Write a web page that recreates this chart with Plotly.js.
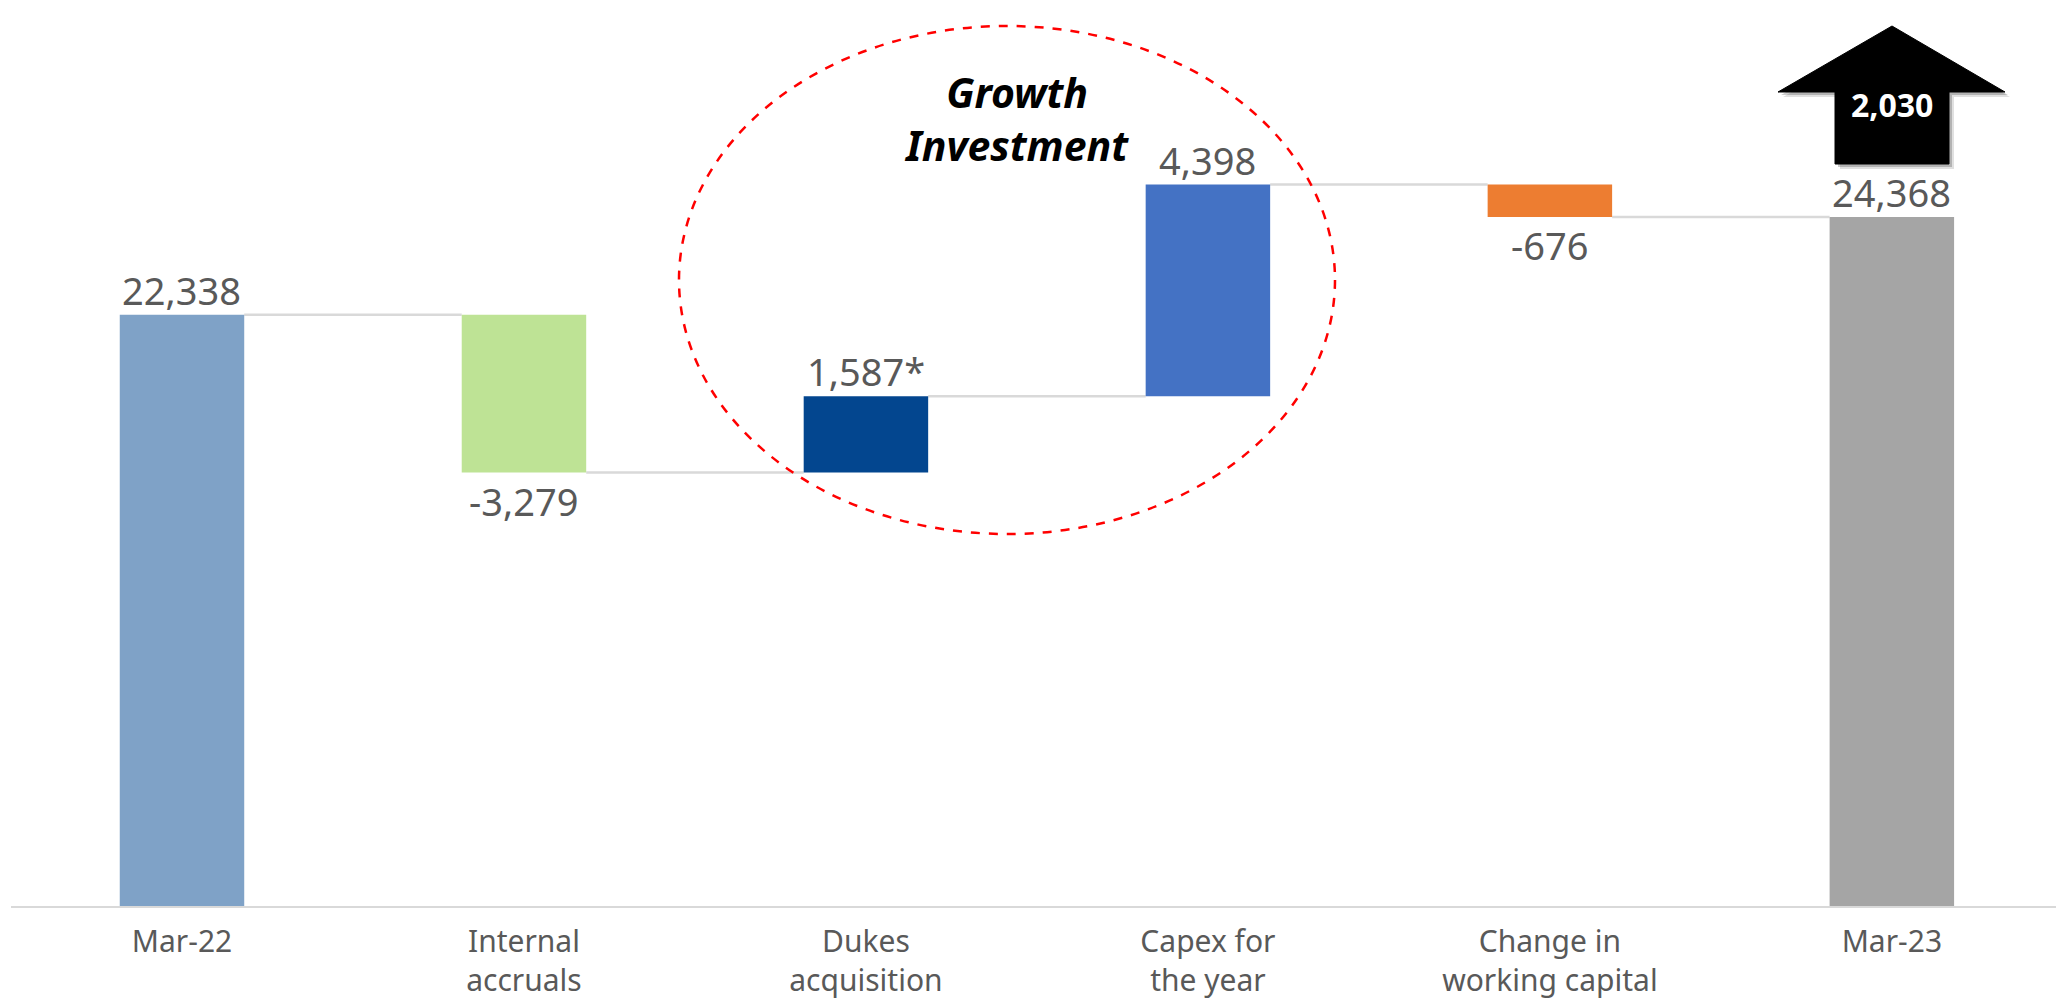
<!DOCTYPE html>
<html>
<head>
<meta charset="utf-8">
<script src="https://cdn.plot.ly/plotly-3.0.1.min.js"></script>
<style>html,body{margin:0;padding:0;background:#fff;}#chart{width:2056px;height:1001px;}</style>
</head>
<body>
<div id="chart"></div>
<script>
// ---- data ----
const tickLabels = ['Mar-22', 'Internal<br>accruals', 'Dukes<br>acquisition', 'Capex for<br>the year', 'Change in<br>working capital', 'Mar-23'];
const measures = ['absolute', 'relative', 'relative', 'relative', 'relative', 'total'];
const values = [22338, -3279, 1587, 4398, -676, 24368];
const labelNotes = ['', '', '*', '', '', ''];
const barColors = ['#7FA2C7', '#BEE395', '#03468F', '#4472C4', '#ED7D31', '#A5A5A5'];
const arrowValue = 2030;
const calloutLines = ['Growth', 'Investment'];

// ---- layout geometry ----
const W = 2056, H = 1001;
const M = {l: 11, r: 0, t: 0, b: 95};
const PW = W - M.l - M.r, PH = H - M.t - M.b;
const barWidth = 0.364;
const fmt = v => v.toLocaleString('en-US');
const px = x => (x - M.l) / PW;          // pixel -> paper x
const py = y => (M.t + PH - y) / PH;     // pixel -> paper y

// ---- waterfall geometry from data ----
const xs = values.map((_, i) => i);
const bases = [], heights = [], levels = [];
let running = 0;
values.forEach((v, i) => {
  if (measures[i] === 'absolute') { bases.push(0); heights.push(v); running = v; }
  else if (measures[i] === 'total') { bases.push(0); heights.push(running); }
  else { bases.push(running); heights.push(v); running += v; }
  levels.push(running);
});

const annotations = [];
values.forEach((v, i) => {
  const neg = measures[i] === 'relative' && v < 0;
  const end = bases[i] + heights[i];
  annotations.push({
    x: i, y: end, xref: 'x', yref: 'y',
    text: fmt(v) + labelNotes[i], showarrow: false,
    yanchor: neg ? 'top' : 'bottom', xanchor: 'center',
    yshift: neg ? 0 : -3,
    font: {family: 'Noto Sans', size: 38, color: '#595959'}
  });
});

const shapes = [];
for (let i = 0; i < values.length - 1; i++) {
  shapes.push({
    type: 'line', xref: 'x', yref: 'y', layer: 'below',
    x0: i + barWidth / 2, x1: i + 1 - barWidth / 2, y0: levels[i], y1: levels[i],
    line: {color: '#D9D9D9', width: 2.5}
  });
}

// dashed ellipse highlight
shapes.push({
  type: 'circle', xref: 'paper', yref: 'paper',
  x0: px(679), x1: px(1335), y0: py(534), y1: py(26),
  line: {color: '#FF0000', width: 2.5, dash: 'dash'}
});

// block arrow (with soft shadow)
function arrowPath(dx, dy) {
  const pts = [[1892, 26], [2005, 92], [1949, 92], [1949, 164], [1835, 164], [1835, 92], [1778, 92]];
  return 'M' + pts.map(p => px(p[0] + dx) + ',' + py(p[1] + dy)).join(' L') + ' Z';
}
shapes.push({type: 'path', xref: 'paper', yref: 'paper', path: arrowPath(5, 5),
  fillcolor: 'rgba(0,0,0,0.12)', line: {width: 0}});
shapes.push({type: 'path', xref: 'paper', yref: 'paper', path: arrowPath(3, 3),
  fillcolor: 'rgba(0,0,0,0.2)', line: {width: 0}});
shapes.push({type: 'path', xref: 'paper', yref: 'paper', path: arrowPath(0, 0),
  fillcolor: '#000000', line: {color: '#000000', width: 1}});

annotations.push({
  xref: 'paper', yref: 'paper', x: px(1892), y: py(104), showarrow: false,
  xanchor: 'center', yanchor: 'middle', text: fmt(arrowValue),
  font: {family: 'Noto Sans', size: 32, color: '#FFFFFF', weight: 700}
});

// callout text
annotations.push({
  xref: 'paper', yref: 'paper', x: px(1016), y: py(118), showarrow: false,
  xanchor: 'center', yanchor: 'middle', text: calloutLines.join('<br>'),
  font: {family: 'Noto Sans', size: 41, color: '#000000', weight: 700, style: 'italic'}
});

const trace = {
  type: 'bar', x: xs, y: heights, base: bases, width: barWidth,
  marker: {color: barColors, line: {width: 0}},
  hoverinfo: 'skip'
};

const layout = {
  width: W, height: H,
  margin: M,
  paper_bgcolor: '#FFFFFF', plot_bgcolor: '#FFFFFF',
  showlegend: false,
  xaxis: {
    range: [-0.5, 5.48], tickvals: xs, ticktext: tickLabels,
    showline: true, linecolor: '#D9D9D9', linewidth: 2,
    showgrid: false, zeroline: false, ticks: '', ticklabelstandoff: 8,
    tickfont: {family: 'Noto Sans', size: 30, color: '#595959'}
  },
  yaxis: {range: [10050, 28880], visible: false, showgrid: false, zeroline: false},
  shapes: shapes,
  annotations: annotations
};

Plotly.newPlot('chart', [trace], layout, {displayModeBar: false, staticPlot: true});
</script>
</body>
</html>
